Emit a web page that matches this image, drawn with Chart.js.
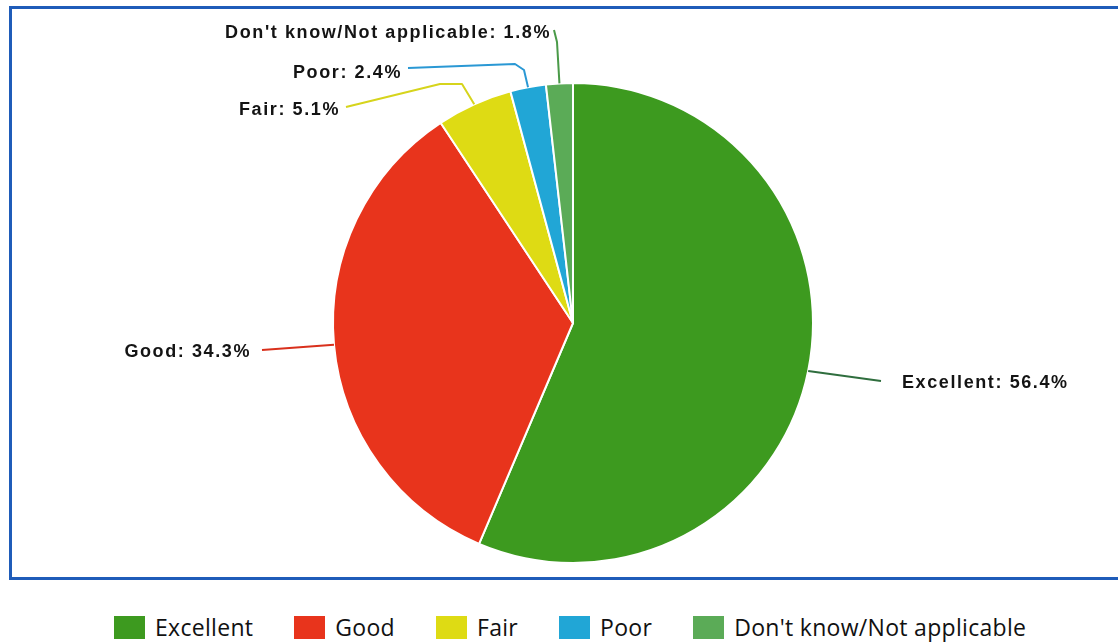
<!DOCTYPE html>
<html>
<head>
<meta charset="utf-8">
<script src="https://cdn.jsdelivr.net/npm/chart.js@4.4.1/dist/chart.umd.min.js"></script>
<style>
  html, body { margin: 0; padding: 0; background: #fff; width: 1118px; height: 642px; overflow: hidden; }
  #frame { position: absolute; left: 9px; top: 6px; width: 1200px; height: 568px; border: 3px solid #1f5cb9; }
  #pie { position: absolute; left: 0; top: 0; }
  #legend { position: absolute; left: 114px; top: 615px; height: 24px; display: flex; align-items: center;
            font-family: "Open Sans", sans-serif; font-size: 23px; letter-spacing: 0.3px; color: #111; white-space: nowrap; }
  .item { display: flex; align-items: center; margin-right: 41px; }
  .sw { width: 31px; height: 23px; margin-right: 10px; }
</style>
</head>
<body>
<div id="frame"></div>
<canvas id="pie" width="1118" height="590"></canvas>
<div id="legend"></div>
<script>
// Survey ratings (percent of respondents)
const categories = ['Excellent', 'Good', 'Fair', 'Poor', "Don't know/Not applicable"];
const shares = [56.4, 34.3, 5.1, 2.4, 1.8];
const sliceColors = ['#3d9a1f', '#e8341c', '#dedb14', '#21a6d6', '#5bab57'];

// Callout text placement and leader-line bends (canvas pixels), one per slice
const calloutLayout = [
  { tx: 902, ty: 383, align: 'left',  bends: [[881, 381]], line: '#2f6e3e' },
  { tx: 251, ty: 352, align: 'right', bends: [[262, 350]], line: '#d9301c' },
  { tx: 340, ty: 110, align: 'right', bends: [[462, 84], [440, 84], [346, 107]], line: '#d6d41c' },
  { tx: 402, ty: 73,  align: 'right', bends: [[524, 70], [515, 64], [408, 68]], line: '#2a98d4' },
  { tx: 551, ty: 33,  align: 'right', bends: [[557, 42], [554, 30]], line: '#4a9a48' }
];

const callouts = {
  id: 'callouts',
  afterDatasetsDraw(chart) {
    const ctx = chart.ctx;
    const meta = chart.getDatasetMeta(0);
    const values = chart.data.datasets[0].data;
    ctx.save();
    meta.data.forEach((arc, i) => {
      const cfg = calloutLayout[i];
      const mid = (arc.startAngle + arc.endAngle) / 2;
      const sx = arc.x + Math.cos(mid) * arc.outerRadius;
      const sy = arc.y + Math.sin(mid) * arc.outerRadius;
      ctx.beginPath();
      ctx.moveTo(sx, sy);
      cfg.bends.forEach(p => ctx.lineTo(p[0], p[1]));
      ctx.strokeStyle = cfg.line;
      ctx.lineWidth = 2;
      ctx.lineJoin = 'round';
      ctx.stroke();

      ctx.font = 'bold 18px "Liberation Sans", Arial, sans-serif';
      ctx.letterSpacing = '1.6px';
      ctx.fillStyle = '#141414';
      ctx.textBaseline = 'middle';
      ctx.textAlign = cfg.align;
      const label = chart.data.labels[i] + ': ' + values[i].toFixed(1) + '%';
      ctx.fillText(label, cfg.tx, cfg.ty);
    });
    ctx.restore();
  }
};

new Chart(document.getElementById('pie'), {
  type: 'pie',
  data: {
    labels: categories,
    datasets: [{
      data: shares,
      backgroundColor: sliceColors,
      borderColor: '#ffffff',
      borderWidth: 2
    }]
  },
  options: {
    responsive: false,
    animation: false,
    layout: { padding: { top: 82, bottom: 26, left: 100, right: 72 } },
    plugins: { legend: { display: false }, tooltip: { enabled: false } }
  },
  plugins: [callouts]
});

// Legend row under the frame
const legend = document.getElementById('legend');
categories.forEach((name, i) => {
  const item = document.createElement('div');
  item.className = 'item';
  const sw = document.createElement('span');
  sw.className = 'sw';
  sw.style.background = sliceColors[i];
  const txt = document.createElement('span');
  txt.textContent = name;
  item.appendChild(sw);
  item.appendChild(txt);
  legend.appendChild(item);
});
</script>
</body>
</html>
